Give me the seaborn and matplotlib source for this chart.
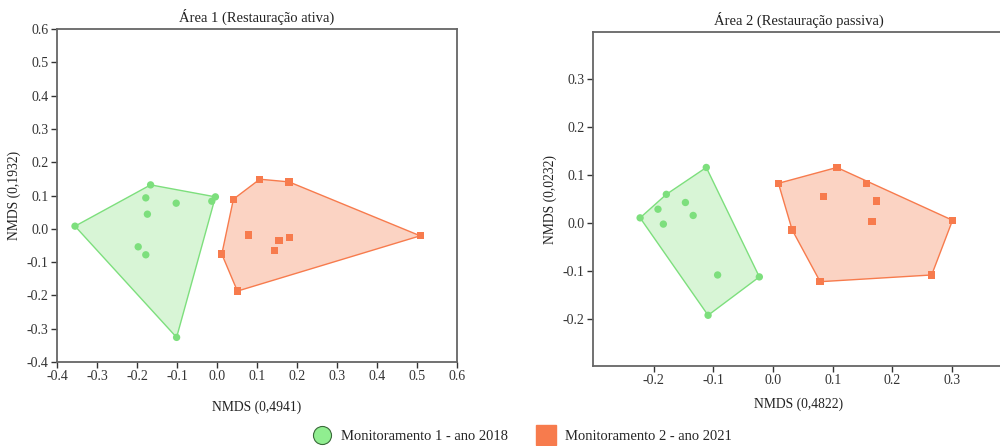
import numpy as np
import pandas as pd
import matplotlib
matplotlib.use("Agg")
import matplotlib.pyplot as plt
from matplotlib.lines import Line2D
import seaborn as sns

sns.set_theme(style="white")
plt.rcParams["font.family"] = ["Liberation Serif", "DejaVu Serif"]

# Área 1 (Restauração ativa)
a1_2018_x = [-0.355, -0.166, -0.178, -0.174, -0.102, -0.004, -0.013, -0.197, -0.178, -0.101]
a1_2018_y = [0.008, 0.132, 0.093, 0.044, 0.077, 0.096, 0.083, -0.054, -0.078, -0.326]
a1_2021_x = [0.107, 0.180, 0.041, 0.012, 0.079, 0.155, 0.181, 0.143, 0.051, 0.508]
a1_2021_y = [0.149, 0.141, 0.089, -0.076, -0.019, -0.036, -0.026, -0.066, -0.187, -0.021]

# Área 2 (Restauração passiva)
a2_2018_x = [-0.223, -0.179, -0.193, -0.184, -0.147, -0.134, -0.112, -0.093, -0.023, -0.109]
a2_2018_y = [0.011, 0.060, 0.029, -0.002, 0.043, 0.016, 0.116, -0.108, -0.112, -0.192]
a2_2021_x = [0.009, 0.107, 0.157, 0.085, 0.174, 0.166, 0.301, 0.032, 0.266, 0.079]
a2_2021_y = [0.083, 0.116, 0.083, 0.055, 0.046, 0.003, 0.006, -0.014, -0.108, -0.122]

a1_ticks = [-0.4, -0.3, -0.2, -0.1, 0.0, 0.1, 0.2, 0.3, 0.4, 0.5, 0.6]
a2_ticks = [-0.2, -0.1, 0.0, 0.1, 0.2, 0.3]

groups = ["Monitoramento 1 - ano 2018", "Monitoramento 2 - ano 2021"]
colors = {groups[0]: "#7ddf7d", groups[1]: "#f77b4d"}
fills = {groups[0]: "#d8f5d6", groups[1]: "#fbd3c3"}
markers = {groups[0]: "o", groups[1]: "s"}


def make_df(x1, y1, x2, y2):
    return pd.DataFrame({
        "x": x1 + x2,
        "y": y1 + y2,
        "grupo": [groups[0]] * len(x1) + [groups[1]] * len(x2),
    })


def hull(pts):
    pts = sorted(map(tuple, pts))
    def cross(o, a, b):
        return (a[0] - o[0]) * (b[1] - o[1]) - (a[1] - o[1]) * (b[0] - o[0])
    lower, upper = [], []
    for p in pts:
        while len(lower) >= 2 and cross(lower[-2], lower[-1], p) <= 0:
            lower.pop()
        lower.append(p)
    for p in reversed(pts):
        while len(upper) >= 2 and cross(upper[-2], upper[-1], p) <= 0:
            upper.pop()
        upper.append(p)
    return np.array(lower[:-1] + upper[:-1])


def fmt(v):
    return f"{abs(v):.1f}" if abs(v) < 1e-9 else f"{v:.1f}"


def panel(ax, df, title, xlabel, ylabel, ticks_x, ticks_y):
    for g in groups:
        sub = df[df["grupo"] == g]
        h = hull(sub[["x", "y"]].values)
        ax.fill(h[:, 0], h[:, 1], facecolor=fills[g], edgecolor=colors[g],
                linewidth=1.0, zorder=1)
    sns.scatterplot(data=df, x="x", y="y", hue="grupo", style="grupo",
                    palette=colors, markers=markers, s=28, edgecolor="none",
                    legend=False, ax=ax, zorder=3)
    ax.set_title(title, fontsize=10.5, color="#222222", pad=5)
    ax.set_xlabel(xlabel, fontsize=9.8, color="#222222", labelpad=12)
    ax.set_ylabel(ylabel, fontsize=9.8, color="#222222", labelpad=4)
    ax.set_xticks(ticks_x)
    ax.set_yticks(ticks_y)
    ax.set_xticklabels([fmt(v) for v in ticks_x])
    ax.set_yticklabels([fmt(v) for v in ticks_y])
    for s in ax.spines.values():
        s.set_color("#666666")
        s.set_linewidth(1.3)
    ax.tick_params(axis="both", labelsize=10, colors="#333333", length=4,
                   width=1, direction="out", bottom=True, left=True, pad=2)


fig = plt.figure(figsize=(10, 4.46), dpi=100)
ax1 = fig.add_axes([0.057, 0.1883, 0.400, 0.7466])
ax2 = fig.add_axes([0.593, 0.179, 0.412, 0.749])

df1 = make_df(a1_2018_x, a1_2018_y, a1_2021_x, a1_2021_y)
panel(ax1, df1, "Área 1 (Restauração ativa)", "NMDS (0,4941)", "NMDS (0,1932)",
      a1_ticks, a1_ticks)
ax1.set_xlim(-0.4, 0.6)
ax1.set_ylim(-0.4, 0.6)

df2 = make_df(a2_2018_x, a2_2018_y, a2_2021_x, a2_2021_y)
panel(ax2, df2, "Área 2 (Restauração passiva)", "NMDS (0,4822)", "NMDS (0,0232)",
      a2_ticks, a2_ticks)
ax2.set_xlim(-0.302, 0.389)
ax2.set_ylim(-0.298, 0.398)
ax2.xaxis.labelpad = 7

handles = [
    Line2D([], [], marker="o", linestyle="", markersize=13,
           markerfacecolor="#90ee90", markeredgecolor="#3a6a3a", markeredgewidth=0.8),
    Line2D([], [], marker="s", linestyle="", markersize=15,
           markerfacecolor="#f77b4d", markeredgecolor="#f77b4d"),
]
fig.legend(handles, groups, loc="lower center", bbox_to_anchor=(0.52, -0.022),
           ncol=2, frameon=False, fontsize=10.5, columnspacing=1.6,
           handletextpad=0.3)

fig.savefig("out.png", dpi=100)
